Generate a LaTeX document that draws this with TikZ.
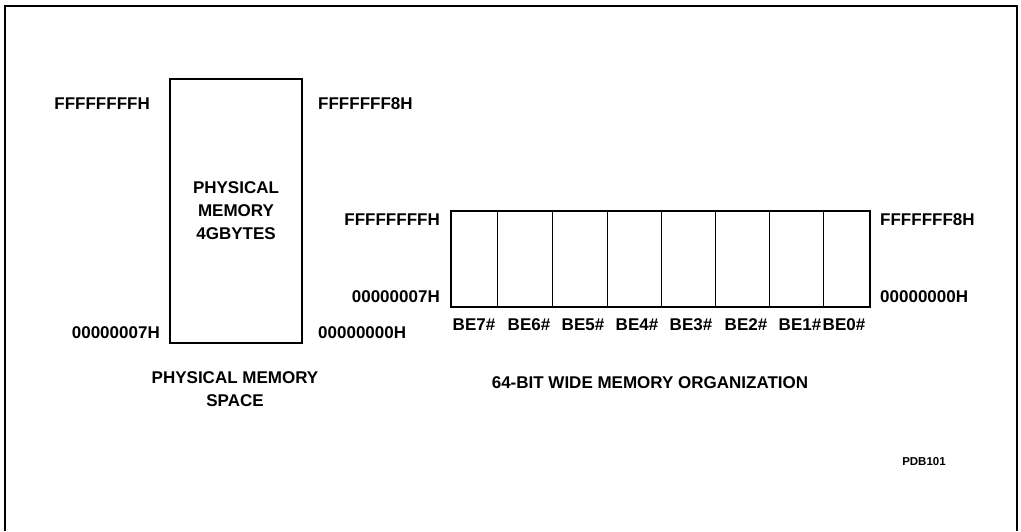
\documentclass[tikz,border=0pt]{standalone}
\usepackage{fontspec}
\setmainfont{Liberation Sans}
\usetikzlibrary{positioning}
\begin{document}
\begin{tikzpicture}[x=1pt, y=-1pt,
    lbl/.style={font=\fontsize{17}{23}\selectfont\bfseries, inner sep=0pt, align=center},
    membox/.style={draw, line width=2pt, inner sep=0pt},
    divider/.style={line width=1pt},
]
\useasboundingbox (0,0) rectangle (1021,531);

% outer frame, open at the bottom
\draw[line width=2pt] (5,531) -- (5,6) -- (1017,6) -- (1017,531);

% physical memory space
\node[membox, lbl, minimum width=132pt, minimum height=264pt] (phys) at (236,211) {PHYSICAL\\MEMORY\\4GBYTES};
\node[lbl, anchor=east] (phys_tl) at (150,104) {FFFFFFFFH};
\node[lbl, anchor=west] (phys_tr) at (318,104) {FFFFFFF8H};
\node[lbl, anchor=east] (phys_bl) at (160,333) {00000007H};
\node[lbl, anchor=west] (phys_br) at (318,333) {00000000H};
\node[lbl] (phys_cap) at (235,389) {PHYSICAL MEMORY\\SPACE};

% 64-bit wide organization
\node[membox, minimum width=419pt, minimum height=96pt] (wide) at (660.5,259) {};
\foreach \x in {497,552,607,661,715,769,823}
    \draw[divider] (\x,0 |- wide.north) -- (\x,0 |- wide.south);
\node[lbl, anchor=east] (wide_tl) at (440,220) {FFFFFFFFH};
\node[lbl, anchor=east] (wide_bl) at (440,297) {00000007H};
\node[lbl, anchor=west] (wide_tr) at (880,220) {FFFFFFF8H};
\node[lbl, anchor=west] (wide_br) at (880,297) {00000000H};

% byte enables
\foreach \x/\n in {474/7, 529/6, 583/5, 637/4, 691/3, 746/2, 800/1, 844/0}
    \node[lbl] (be\n) at (\x,325) {BE\n\#};

\node[lbl] (wide_cap) at (650,383) {64-BIT WIDE MEMORY ORGANIZATION};

% figure tag
\node[font=\fontsize{11.5}{14}\selectfont\bfseries, inner sep=0pt] (tag) at (924,462) {PDB101};

\end{tikzpicture}
\end{document}
